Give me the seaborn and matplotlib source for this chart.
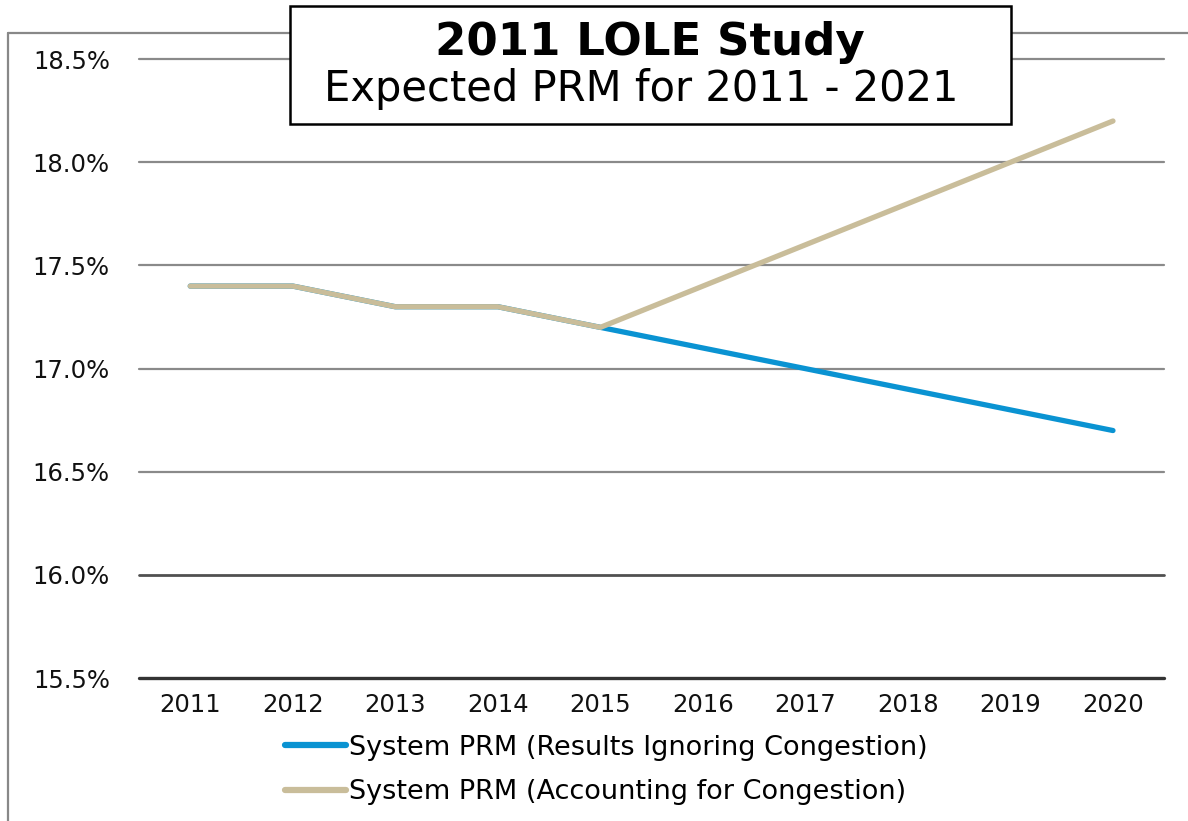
import pandas as pd
import matplotlib.pyplot as plt
import seaborn as sns
from matplotlib.lines import Line2D
from matplotlib.patches import Rectangle
from matplotlib.ticker import FuncFormatter

# ── Data ───────────────────────────────────────────────────────────────────
years = [2011, 2012, 2013, 2014, 2015, 2016, 2017, 2018, 2019, 2020]
prm_ignoring = [17.4, 17.4, 17.3, 17.3, 17.2, 17.1, 17.0, 16.9, 16.8, 16.7]
prm_accounting = [17.4, 17.4, 17.3, 17.3, 17.2, 17.4, 17.6, 17.8, 18.0, 18.2]
series_names = ['System PRM (Results Ignoring Congestion)',
                'System PRM (Accounting for Congestion)']
series_colors = ['#0A93D2', '#C9BD9A']
y_ticks = [15.5, 16.0, 16.5, 17.0, 17.5, 18.0, 18.5]

df = pd.DataFrame({
    'year': years * 2,
    'prm': prm_ignoring + prm_accounting,
    'series': [series_names[0]] * len(years) + [series_names[1]] * len(years),
})

sns.set_style('white')
plt.rcParams['font.family'] = ['DejaVu Sans']
plt.rcParams['text.color'] = 'black'

fig = plt.figure(figsize=(11.88, 8.21), dpi=100)
ax = fig.add_axes([0.117, 0.174, 0.863, 0.754])

sns.lineplot(
    data=df, x='year', y='prm', hue='series',
    hue_order=series_names, palette=series_colors,
    linewidth=3.8, ax=ax, legend=True,
)

ax.set_xlim(years[0] - 0.5, years[-1] + 0.5)
ax.set_ylim(y_ticks[0], y_ticks[-1])
ax.set_xticks(years)
ax.set_xticklabels([str(y) for y in years])
ax.set_yticks(y_ticks)
ax.yaxis.set_major_formatter(FuncFormatter(lambda v, _: f'{v:.1f}%'))
ax.set_xlabel('')
ax.set_ylabel('')
ax.tick_params(axis='both', length=0, labelsize=17.5, colors='#111111')
ax.tick_params(axis='y', pad=21)
ax.tick_params(axis='x', pad=11)
for s in ax.spines.values():
    s.set_visible(False)

# Grid lines: light grey, with the two lowest drawn darker
ax.yaxis.grid(True, color='#8a8a8a', linewidth=1.6)
ax.set_axisbelow(True)
for val, gl in zip(y_ticks, ax.get_ygridlines()):
    gl.set_clip_on(False)
    if val == 16.0:
        gl.set_color('#505050')
        gl.set_linewidth(2.0)
    elif val < 16.0:
        gl.set_color('#333333')
        gl.set_linewidth(2.4)

# Legend below the plot
leg = ax.legend(
    loc='upper left', frameon=False, fontsize=19.5, handlelength=2.25,
    handletextpad=0.12, labelspacing=0.68, borderaxespad=0,
)
leg.set_bbox_to_anchor((0.231, 0.118), transform=fig.transFigure)
for h in leg.get_lines():
    h.set_linewidth(4.5)

# Outer frame lines (top and left)
fig.add_artist(Line2D([0.0067, 1.0], [0.960, 0.960], color='#888888', lw=1.6))
fig.add_artist(Line2D([0.0067, 0.0067], [0.0, 0.960], color='#888888', lw=1.6))

# Title box
fig.add_artist(Rectangle((0.244, 0.849), 0.607, 0.1437, transform=fig.transFigure,
                         facecolor='white', edgecolor='black', lw=1.8, zorder=5))
fig.text(0.547, 0.933, '2011 LOLE Study', ha='center', va='baseline',
         fontsize=32.5, fontweight='bold', zorder=6)
fig.text(0.540, 0.877, 'Expected PRM for 2011 - 2021', ha='center', va='baseline',
         fontsize=30, zorder=6)

fig.savefig('out.png', dpi=100)
